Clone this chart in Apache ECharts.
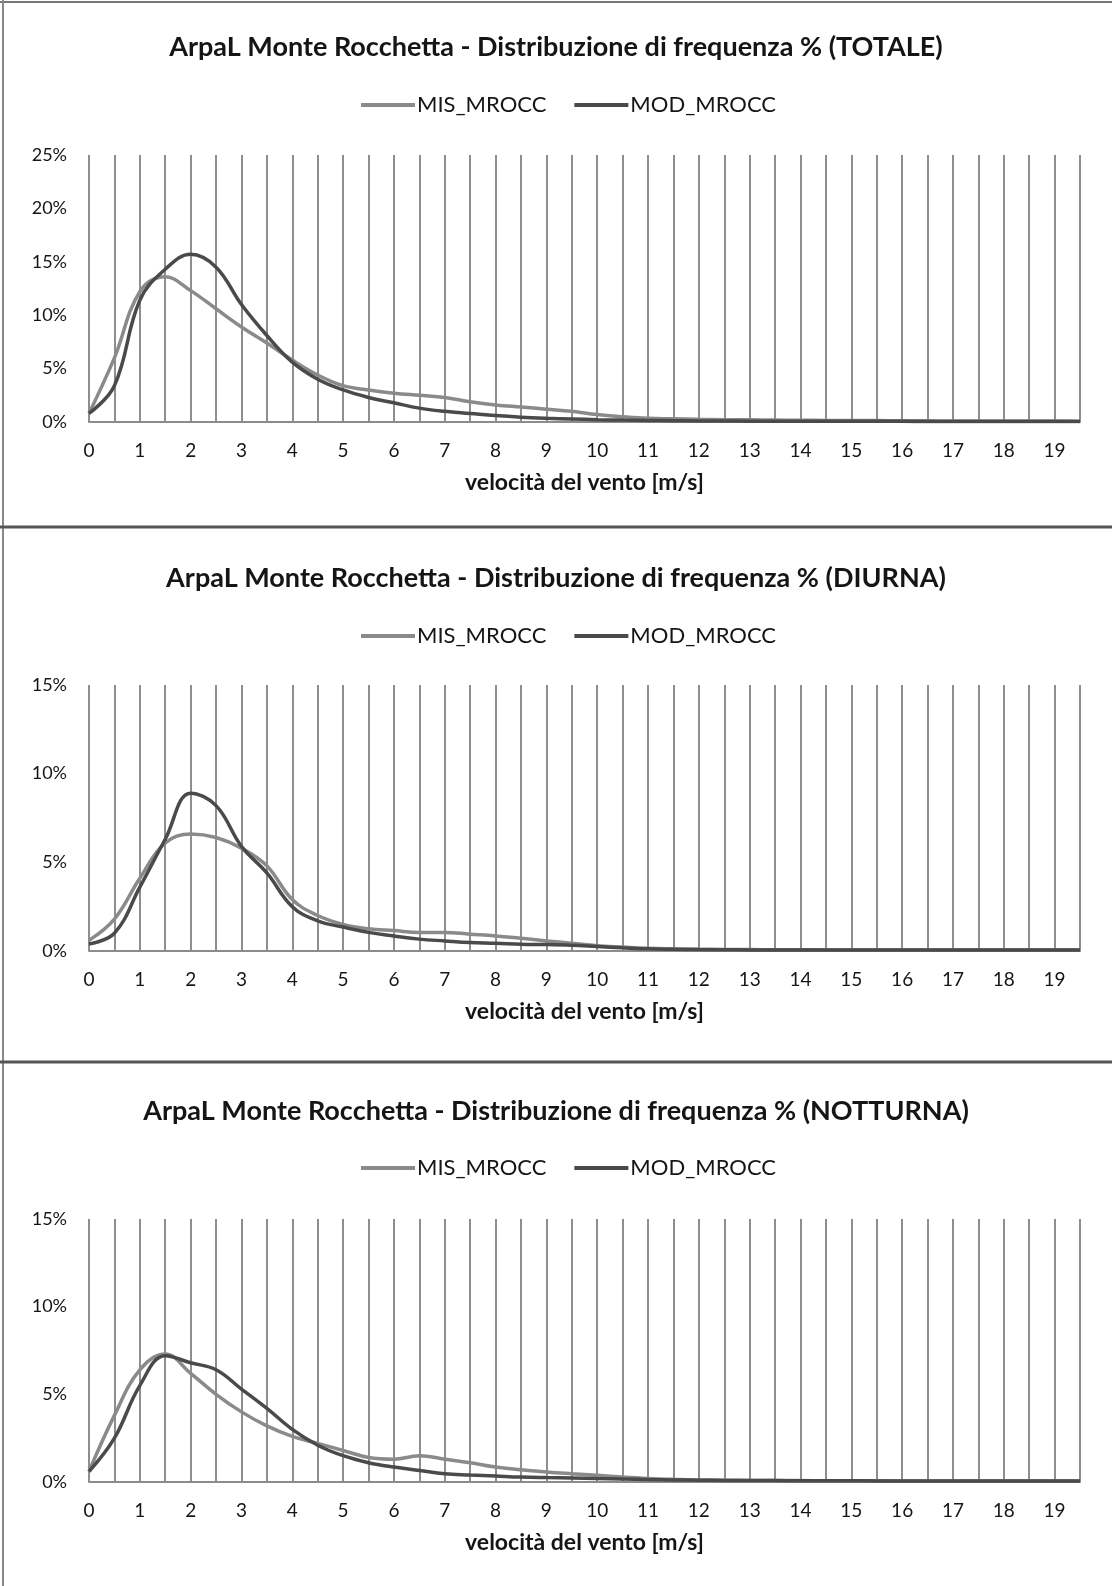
<!DOCTYPE html>
<html>
<head>
<meta charset="utf-8">
<script src="https://cdn.jsdelivr.net/npm/echarts@6/dist/echarts.min.js"></script>
<style>
html,body{margin:0;padding:0;background:#fff;}
#c{width:1112px;height:1586px;}
</style>
</head>
<body>
<div id="c"></div>
<script>
// wind speed bins [m/s]
const speeds = [0,0.5,1,1.5,2,2.5,3,3.5,4,4.5,5,5.5,6,6.5,7,7.5,8,8.5,9,9.5,
                10,10.5,11,11.5,12,12.5,13,13.5,14,14.5,15,15.5,16,16.5,17,17.5,18,18.5,19,19.5];

const titles = [
  "ArpaL Monte Rocchetta - Distribuzione di frequenza % (TOTALE)",
  "ArpaL Monte Rocchetta - Distribuzione di frequenza % (DIURNA)",
  "ArpaL Monte Rocchetta - Distribuzione di frequenza % (NOTTURNA)"
];
const seriesNames = ["MIS_MROCC", "MOD_MROCC"];
const xAxisTitle = "velocità del vento [m/s]";
const yMax = [25, 15, 15];

// TOTALE
const misTotale = [0.8,6.0,12.2,13.6,12.3,10.6,8.9,7.4,5.8,4.4,3.4,3.0,2.7,2.5,2.3,1.9,1.6,1.4,1.2,1.0,
                   0.7,0.5,0.35,0.3,0.25,0.22,0.2,0.18,0.16,0.15,0.14,0.13,0.12,0.11,0.1,0.1,0.1,0.09,0.09,0.08];
const modTotale = [0.8,3.4,11.4,14.3,15.7,14.5,11.0,8.1,5.6,4.0,3.0,2.3,1.8,1.3,1.0,0.8,0.6,0.45,0.35,0.28,
                   0.22,0.18,0.15,0.12,0.1,0.09,0.08,0.08,0.07,0.07,0.06,0.06,0.06,0.05,0.05,0.05,0.05,0.05,0.05,0.05];
// DIURNA
const misDiurna = [0.6,1.8,4.1,6.1,6.6,6.4,5.8,4.8,2.9,2.0,1.5,1.25,1.15,1.05,1.05,0.95,0.85,0.72,0.57,0.44,
                   0.3,0.22,0.15,0.12,0.1,0.09,0.08,0.07,0.07,0.06,0.06,0.06,0.05,0.05,0.05,0.05,0.05,0.05,0.05,0.05];
const modDiurna = [0.4,1.0,3.6,6.3,8.9,8.2,5.9,4.4,2.5,1.7,1.35,1.05,0.85,0.67,0.57,0.48,0.44,0.38,0.36,0.32,
                   0.25,0.18,0.12,0.1,0.08,0.07,0.06,0.06,0.05,0.05,0.05,0.05,0.05,0.05,0.05,0.05,0.05,0.05,0.05,0.05];
// NOTTURNA
const misNotturna = [0.6,3.8,6.4,7.3,6.2,5.0,4.0,3.2,2.6,2.2,1.8,1.4,1.3,1.5,1.3,1.1,0.85,0.7,0.57,0.47,
                     0.38,0.28,0.2,0.15,0.12,0.1,0.09,0.08,0.08,0.07,0.07,0.07,0.06,0.06,0.06,0.06,0.06,0.06,0.06,0.06];
const modNotturna = [0.6,2.5,5.5,7.2,6.8,6.4,5.3,4.2,3.0,2.1,1.5,1.1,0.85,0.66,0.47,0.4,0.34,0.28,0.25,0.23,
                     0.2,0.17,0.14,0.12,0.1,0.09,0.08,0.08,0.07,0.07,0.07,0.06,0.06,0.06,0.06,0.06,0.06,0.06,0.06,0.06];

const dataSets = [[misTotale, modTotale],[misDiurna, modDiurna],[misNotturna, modNotturna]];

const FONT = "Lato";
const TXT = "#151515";
const colors = ["#8a8a8a", "#4a4a4a"];

// layout (pixels)
const grids = [
  {top:155, height:267},
  {top:685, height:266},
  {top:1219, height:263}
];
const titleTops = [29, 560, 1093];
const legendTops = [89, 620, 1152];

const chart = echarts.init(document.getElementById('c'), null, {renderer:'canvas'});

const option = {
  backgroundColor: '#ffffff',
  animation: false,
  title: titles.map((t,i)=>({
    text: t, left: 'center', top: titleTops[i],
    textStyle:{fontFamily:FONT, fontWeight:'bold', fontSize:27, color:TXT}
  })),
  legend: dataSets.map((d,i)=>({
    data: seriesNames.map(n=>({name:n, icon:'rect'})),
    left: 356, top: legendTops[i],
    itemWidth: 54, itemHeight: 4, itemGap: 28,
    textStyle:{fontFamily:FONT, fontSize:22, color:TXT, padding:[0,0,0,-3]},
    selectedMode:false
  })),
  grid: grids.map(g=>({left:89, right:32, top:g.top, height:g.height, containLabel:false})),
  xAxis: grids.map((g,i)=>({
    type:'value', gridIndex:i, min:0, max:19.5, interval:0.5,
    name: xAxisTitle, nameLocation:'middle', nameGap: 49,
    nameTextStyle:{fontFamily:FONT, fontWeight:'bold', fontSize:23, color:TXT},
    axisLine:{show:true, lineStyle:{color:'#8c8c8c', width:2}},
    axisTick:{show:false},
    axisLabel:{margin:19, fontFamily:FONT, fontSize:19, color:TXT,
      formatter:v=> Number.isInteger(v) ? String(v) : ''},
    splitLine:{show:true, lineStyle:{color:'#8e8e8e', width:2}}
  })),
  yAxis: grids.map((g,i)=>({
    type:'value', gridIndex:i, min:0, max:yMax[i], interval:5,
    axisLine:{show:false}, axisTick:{show:false},
    axisLabel:{margin:22, fontFamily:FONT, fontSize:18, color:TXT, formatter:'{value}%'},
    splitLine:{show:false}
  })),
  series: [],
  graphic: [
    {type:'line', shape:{x1:0,y1:2,x2:1112,y2:2}, style:{stroke:'#777', lineWidth:2}},
    {type:'line', shape:{x1:3,y1:0,x2:3,y2:1586}, style:{stroke:'#888', lineWidth:2}},
    {type:'line', shape:{x1:0,y1:527,x2:1112,y2:527}, style:{stroke:'#555', lineWidth:3}},
    {type:'line', shape:{x1:0,y1:1062,x2:1112,y2:1062}, style:{stroke:'#555', lineWidth:3}}
  ]
};

dataSets.forEach((pair, gi)=>{
  pair.forEach((arr, si)=>{
    option.series.push({
      name: seriesNames[si], type:'line', xAxisIndex:gi, yAxisIndex:gi,
      data: speeds.map((x,k)=>[x, arr[k]]),
      smooth: 0.4, symbol:'none',
      lineStyle:{color:colors[si], width:3.5},
      itemStyle:{color:colors[si]},
      z: 3
    });
  });
});

chart.setOption(option);
</script>
</body>
</html>
